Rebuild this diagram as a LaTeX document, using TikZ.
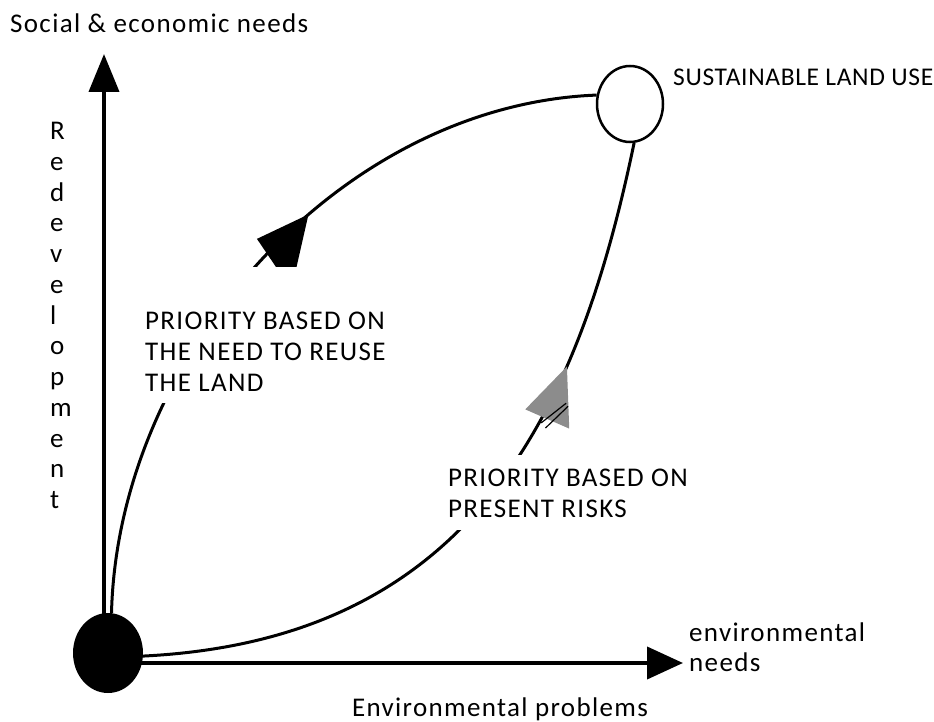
\documentclass[tikz,border=0pt]{standalone}
\usepackage{fontspec}
\setmainfont{Carlito}[LetterSpace=5]
\usetikzlibrary{shapes.geometric, arrows.meta, decorations.markings}
\tikzset{
  axis/.style={line width=4pt},
  route/.style={line width=3pt, postaction={decorate}},
  txt/.style={font=\fontsize{27}{31}\selectfont, inner sep=0pt, align=left},
}

\begin{document}
\begin{tikzpicture}[x=1pt, y=-1pt]
    \useasboundingbox (0,0) rectangle (934,722);
    % states
    \node[ellipse, fill=black, minimum width=70pt, minimum height=80pt, inner sep=0pt] (prob) at (108,653) {};
    \node[ellipse, draw, line width=2.5pt, fill=white, minimum width=66pt, minimum height=76pt, inner sep=0pt] (land) at (630,104) {};
    % axes
    \coordinate (ytip) at (104,54);
    \coordinate (xtip) at (683,663);
    \draw[axis, -{Triangle[length=38pt, width=30pt]}] ([xshift=-4pt]prob.center) -- (ytip);
    \draw[axis, -{Triangle[length=36pt, width=32pt]}] ([yshift=-10pt]prob.center) -- (xtip);
    % routes to sustainable land use
    \draw[route, decoration={markings,
        mark=at position 0.59 with {\fill (0,0) -- (-55pt,15pt) -- (-62pt,-46pt) -- cycle;}}]
      (prob.85) .. controls (118,355) and (340,105) .. (land.165);
    \draw[route, decoration={markings,
        mark=at position 0.70 with {\fill[black!45] (0,0) -- (-56pt,21pt) -- (-56pt,-27pt) -- cycle;
          \draw[line width=1.2pt] (-62pt,1pt) -- (-34pt,-14pt) (-65pt,-5pt) -- (-36pt,-17pt);}}]
      (prob.-5) .. controls (470,640) and (577,417) .. (land.-84);
    \fill[white] (133,267) rectangle (392,403);
    \fill[white] (440,455) rectangle (700,530);
    % labels
    \node[txt, anchor=north west] (reuse) at (145,312) {PRIORITY BASED ON\\THE NEED TO REUSE\\THE LAND};
    \node[txt, anchor=north west] (risks) at (448,469) {PRIORITY BASED ON\\PRESENT RISKS};
    \node[txt, anchor=base west, font=\fontsize{25.5}{28}\selectfont\addfontfeatures{LetterSpace=2.5}] (goal) at (673,86) {SUSTAINABLE LAND USE};
    \node[txt, anchor=base west] (ylab) at (10,33) {Social \& economic needs};
    \node[txt, anchor=north west, font=\fontsize{27}{30.75}\selectfont] (redev) at (50,122) {R\\e\\d\\e\\v\\e\\l\\o\\p\\m\\e\\n\\t};
    \node[txt, anchor=north west, font=\fontsize{27}{30}\selectfont] (xlab) at (689,623) {environmental\\needs};
    \node[txt, anchor=base] (xname) at (500,716) {Environmental problems};
\end{tikzpicture}
\end{document}
